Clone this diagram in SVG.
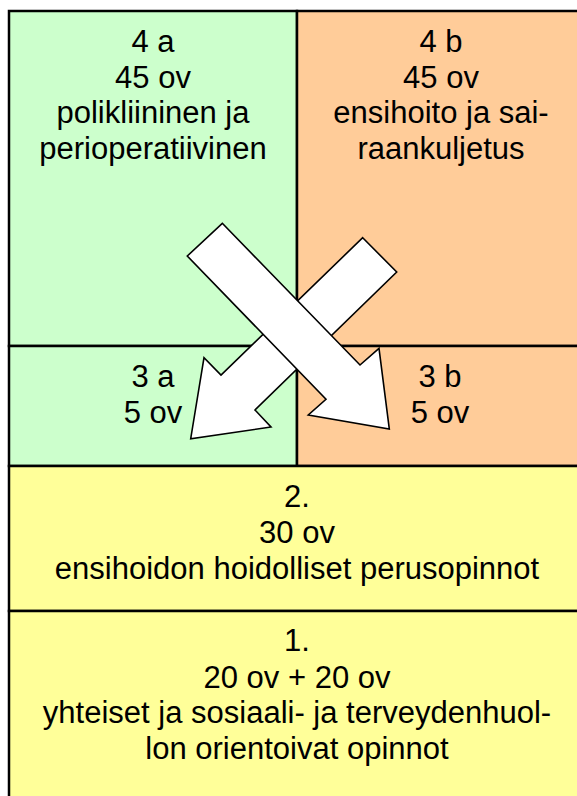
<svg xmlns="http://www.w3.org/2000/svg" width="577" height="796" viewBox="0 0 577 796">
<style>
.box{stroke:#000;stroke-width:2.5}
.g{fill:#CCFFCC}.o{fill:#FFCC99}.y{fill:#FFFF99}
text{font-family:"Liberation Sans",Arial,sans-serif;font-size:31px;fill:#000;text-anchor:middle}
.arrow{fill:#fff;stroke:#000;stroke-width:1.6;stroke-linejoin:miter}
</style>
<rect width="577" height="796" fill="#fff"/>
<g id="n4a"><rect class="box g" x="9" y="11" width="288" height="335"/>
<text x="153" y="52">4 a</text><text x="153" y="88">45 ov</text><text x="153" y="123">polikliininen ja</text><text x="153" y="159">perioperatiivinen</text></g>
<g id="n4b"><rect class="box o" x="297" y="11" width="290" height="335"/>
<text x="441" y="52">4 b</text><text x="441" y="88">45 ov</text><text x="441" y="123">ensihoito ja sai-</text><text x="441" y="159">raankuljetus</text></g>
<g id="n3a"><rect class="box g" x="9" y="346" width="288" height="120"/>
<text x="153" y="387">3 a</text><text x="153" y="423">5 ov</text></g>
<g id="n3b"><rect class="box o" x="297" y="346" width="290" height="120"/>
<text x="440" y="387">3 b</text><text x="440" y="423">5 ov</text></g>
<g id="n2"><rect class="box y" x="9" y="466" width="578" height="145"/>
<text x="297" y="507">2.</text><text x="297" y="543">30 ov</text><text x="297" y="579">ensihoidon hoidolliset perusopinnot</text></g>
<g id="n1"><rect class="box y" x="9" y="611" width="578" height="200"/>
<text x="297" y="651">1.</text><text x="297" y="688">20 ov + 20 ov</text><text x="297" y="723">yhteiset ja sosiaali- ja terveydenhuol-</text><text x="297" y="759">lon orientoivat opinnot</text></g>
<g id="connectors">
<polygon class="arrow" points="362.7,237.7 396.7,272 255,410 271,427 190.7,438.7 204,357.7 221,375"/>
<polygon class="arrow" points="222.3,223.3 360,365 379,348.3 389.3,429 308.3,415 326,399.3 187.3,256"/>
</g>
</svg>
